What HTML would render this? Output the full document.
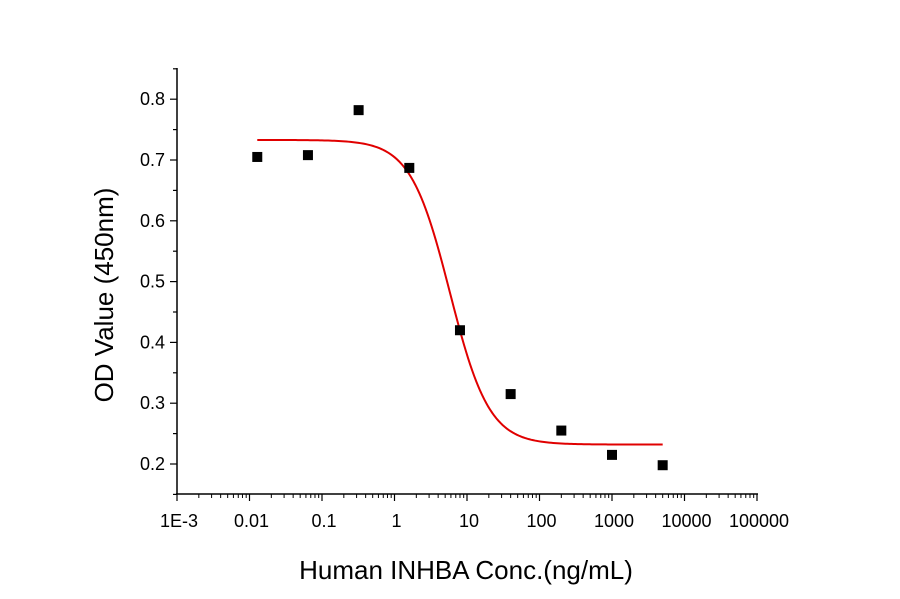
<!DOCTYPE html>
<html><head><meta charset="utf-8"><style>
body{margin:0;background:#fff}
svg text{font-family:"Liberation Sans",sans-serif;fill:#000}
</style></head><body>
<svg width="900" height="594">
<g id="axes"></g><g id="marks"></g>
<text x="466" y="579" text-anchor="middle" font-size="26">Human INHBA Conc.(ng/mL)</text>
<text transform="translate(113,295) rotate(-90)" text-anchor="middle" font-size="26">OD Value (450nm)</text>
</svg>
<script>
const concs=[0.0128,0.064,0.32,1.6,8,40,200,1000,5000];
const ods=[0.705,0.708,0.782,0.687,0.42,0.315,0.255,0.215,0.198];
const fitTop=0.733, fitBottom=0.232, fitEC50=5.8, fitHill=1.6;
const yTicks=[0.2,0.3,0.4,0.5,0.6,0.7,0.8];
const xTickLabels=["1E-3","0.01","0.1","1","10","100","1000","10000","100000"];
const X0=177,DEC=72.5,Y0=494;
function xs(v){return X0+(Math.log10(v)+3)*DEC;}
function ys(v){return 464-(v-0.2)*608;}
const NS="http://www.w3.org/2000/svg";
const ax=document.getElementById('axes'),mk=document.getElementById('marks');
function el(p,t,a){const e=document.createElementNS(NS,t);for(const k in a)e.setAttribute(k,a[k]);p.appendChild(e);return e;}
let e=el(ax,'line',{x1:177,y1:68,x2:177,y2:Y0,stroke:'#000','stroke-width':1.5});


e=el(ax,'line',{x1:176,y1:Y0,x2:758,y2:Y0,stroke:'#000','stroke-width':1.5});


for(let v=0.15;v<=0.851;v+=0.05){const major=yTicks.some(t=>Math.abs(t-v)<1e-6);
 el(ax,'line',{x1:major?170:173,y1:ys(v),x2:177,y2:ys(v),stroke:'#000','stroke-width':1.2});}
yTicks.forEach(v=>{const t=el(ax,'text',{x:165,y:ys(v)+6,'text-anchor':'end','font-size':18});t.textContent=v.toFixed(1);
 
 });
xTickLabels.forEach((s,i)=>{const x=X0+i*DEC;
 el(ax,'line',{x1:x,y1:Y0,x2:x,y2:Y0+7,stroke:'#000','stroke-width':1.2});
 const t=el(ax,'text',{x:x+2,y:Y0+33,'text-anchor':'middle','font-size':18});t.textContent=s;
 
 
 if(i<xTickLabels.length-1)for(let m=2;m<=9;m++){const xm=x+Math.log10(m)*DEC;
  el(ax,'line',{x1:xm,y1:Y0,x2:xm,y2:Y0+4,stroke:'#000','stroke-width':1});}});
let d='';
for(let i=0;i<=200;i++){const lx=Math.log10(concs[0])+(Math.log10(concs[concs.length-1])-Math.log10(concs[0]))*i/200;
 const c=Math.pow(10,lx);const y=fitBottom+(fitTop-fitBottom)/(1+Math.pow(c/fitEC50,fitHill));
 d+=(i?'L':'M')+xs(c).toFixed(2)+','+ys(y).toFixed(2);}
e=el(mk,'path',{d:d,fill:'none',stroke:'#e00000','stroke-width':2});


concs.forEach((c,i)=>{const r=el(mk,'rect',{x:xs(c)-5,y:ys(ods[i])-5,width:10,height:10,fill:'#000'});
 
 });
</script>
</body></html>
